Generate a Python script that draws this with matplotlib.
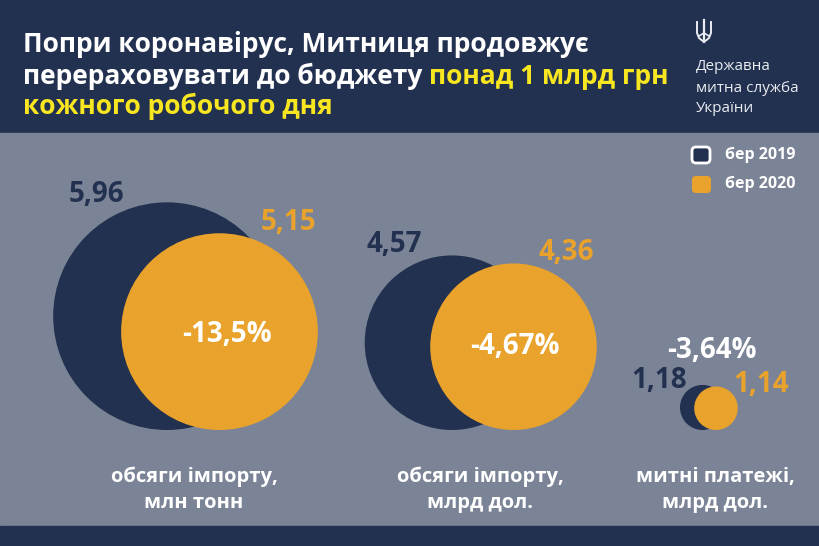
import matplotlib.pyplot as plt
from matplotlib.patches import Circle, Rectangle, FancyBboxPatch

NAVY = "#233150"
GRAY = "#7b8496"
ORANGE = "#e9a22b"
YELLOW = "#f7e620"
WHITE = "#ffffff"

plt.rcParams["font.family"] = ["Open Sans", "DejaVu Sans"]

# data
categories = ["обсяги імпорту,\nмлн тонн", "обсяги імпорту,\nмлрд дол.", "митні платежі,\nмлрд дол."]
values_2019 = [5.96, 4.57, 1.18]
values_2020 = [5.15, 4.36, 1.14]
labels_2019 = ["5,96", "4,57", "1,18"]
labels_2020 = ["5,15", "4,36", "1,14"]
changes = ["-13,5%", "-4,67%", "-3,64%"]
legend_labels = ["бер 2019", "бер 2020"]

# layout (pixel coords)
scale = 19.1
base_y = 430
x_2019 = [167, 452, 702.5]
x_2020 = [219.5, 513.5, 716]
cat_x = [194, 480, 715]
pos_2019 = [(96, 195), (394, 245), (659, 381)]
pos_2020 = [(288, 222), (566, 253), (761, 385)]
pos_change = [(227, 335), (515, 347), (712, 350)]

fig = plt.figure(figsize=(8.2, 5.46), dpi=100)
ax = fig.add_axes([0, 0, 1, 1])
ax.set_xlim(0, 820)
ax.set_ylim(546, 0)
ax.axis("off")

ax.add_patch(Rectangle((0, 0), 820, 133, color=NAVY))
ax.add_patch(Rectangle((0, 133), 820, 393, color=GRAY))
ax.add_patch(Rectangle((0, 526), 820, 20, color=NAVY))

# title
title_fs = 19
ax.text(23, 45, "Попри коронавірус, Митниця продовжує", color=WHITE, fontsize=title_fs,
        fontweight="bold", va="center")
t = ax.text(23, 76, "перераховувати до бюджету ", color=WHITE, fontsize=title_fs,
            fontweight="bold", va="center")
ax.annotate("понад 1 млрд грн", xy=(1, 0.5), xycoords=t, color=YELLOW, fontsize=title_fs,
            fontweight="bold", ha="left", va="center")
ax.text(23, 106, "кожного робочого дня", color=YELLOW, fontsize=title_fs,
        fontweight="bold", va="center")

# emblem + agency name
ec = "#e9ecf2"
ax.plot([704, 704], [20, 40], color=ec, lw=1.6)
ax.plot([697, 697, 699, 704], [22, 33, 38, 42], color=ec, lw=1.4)
ax.plot([711, 711, 709, 704], [22, 33, 38, 42], color=ec, lw=1.4)
ax.plot([699, 704, 709], [36, 33, 36], color=ec, lw=1.2)
for i, line in enumerate(["Державна", "митна служба", "України"]):
    ax.text(696, 67 + i * 21, line, color=ec, fontsize=11, va="center")

# legend
ax.add_patch(FancyBboxPatch((692, 147), 18, 16, boxstyle="round,pad=0,rounding_size=4",
                            facecolor=NAVY, edgecolor=WHITE, lw=2))
ax.add_patch(FancyBboxPatch((692, 176), 19, 17, boxstyle="round,pad=0,rounding_size=4",
                            facecolor=ORANGE, edgecolor="none"))
ax.text(725, 155, legend_labels[0], color=WHITE, fontsize=11.5, fontweight="bold", va="center")
ax.text(725, 184, legend_labels[1], color=WHITE, fontsize=11.5, fontweight="bold", va="center")

# circles, radius proportional to value
value_fs = 20
for i in range(3):
    r1 = values_2019[i] * scale
    r2 = values_2020[i] * scale
    ax.add_patch(Circle((x_2019[i], base_y - r1), r1, color=NAVY, lw=0))
    ax.add_patch(Circle((x_2020[i], base_y - r2), r2, color=ORANGE, lw=0))
    ax.text(cat_x[i], 490, categories[i], color=WHITE, fontsize=14.5, fontweight="bold",
            ha="center", va="center", linespacing=1.4)
    ax.text(*pos_2019[i], labels_2019[i], color=NAVY, fontsize=value_fs, fontweight="bold",
            ha="center", va="center")
    ax.text(*pos_2020[i], labels_2020[i], color=ORANGE, fontsize=value_fs, fontweight="bold",
            ha="center", va="center")
    ax.text(*pos_change[i], changes[i], color=WHITE, fontsize=value_fs, fontweight="bold",
            ha="center", va="center")

fig.savefig("out.png", dpi=100)
